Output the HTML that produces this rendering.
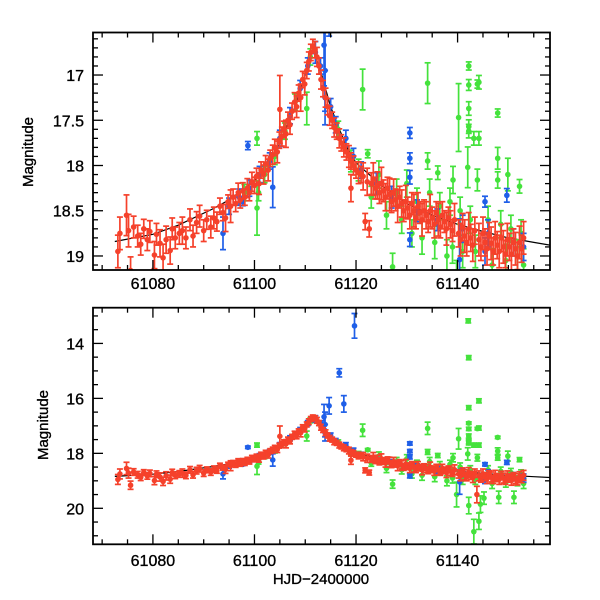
<!DOCTYPE html>
<html><head><meta charset="utf-8"><style>
html,body{margin:0;padding:0;background:#fff;}
svg{display:block;font-family:"Liberation Sans",sans-serif;}
svg text{stroke:#000;stroke-width:0.35px;}
</style></head><body>
<svg id="chart" width="600" height="600" viewBox="0 0 600 600">
<defs>
<clipPath id="clipTop"><rect x="93" y="32.5" width="457" height="237.5"/></clipPath>
<clipPath id="clipBot"><rect x="93" y="307.7" width="457" height="236.6"/></clipPath>
</defs>
<g id="top"></g>
<g id="bot"></g>
<text x="33" y="152" transform="rotate(-90 33 152)" text-anchor="middle" font-size="15">Magnitude</text>
<text x="48" y="425" transform="rotate(-90 48 425)" text-anchor="middle" font-size="15">Magnitude</text>
<text x="321" y="584" text-anchor="middle" font-size="15">HJD−2400000</text>
</svg>
<script>
// [day, mag, err]
const modelDays = [61072.5,61080,61085,61091.8,61095,61100,61103,61105,61108,61110,61111.5,61113,61115,61118,61120,61125,61130,61135,61140,61145,61150,61155,61158.2];
const modelMags = [18.84,18.76,18.66,18.48,18.38,18.17,17.95,17.75,17.35,17.0,16.72,16.95,17.35,17.78,17.97,18.22,18.42,18.55,18.65,18.73,18.8,18.85,18.88];
const redPoints = [
[61073.1,18.95,.12],[61073.5,18.75,.12],[61074.8,18.55,.15],[61075.2,18.72,.12],[61075.6,19.16,.1],[61076.2,18.68,.08],[61077,18.78,.08],[61077.6,18.87,.08],[61078.2,18.7,.07],[61078.9,18.82,.08],[61079.4,18.73,.08],[61080.3,18.99,.1],[61080.7,18.76,.08],[61081.4,18.86,.1],[61082.0,19.02,.1],[61082.6,18.82,.1],[61083.4,18.94,.1],[61083.8,18.7,.08],[61084.4,18.8,.08],[61085.2,18.75,.08],[61085.8,18.72,.1],[61086.5,18.8,.08],[61087.3,18.6,.08],[61087.9,18.78,.08],[61088.6,18.63,.08],[61089.2,18.56,.08],[61090.0,18.72,.08],[61090.6,18.6,.07],[61091.4,18.68,.08],[61092.0,18.58,.08],[61092.6,18.62,.07],[61093.2,18.45,.06],[61093.8,18.52,.06],[61094.3,18.58,.1],[61094.8,18.4,.05],[61095.3,18.45,.12],
[61095.8,18.35,.06],[61096.3,18.42,.06],[61096.8,18.3,.07],[61097.2,18.38,.06],[61097.7,18.28,.06],[61098.1,18.35,.06],[61098.6,18.25,.07],[61099.0,18.3,.06],[61099.5,18.18,.07],[61100.0,18.22,.06],[61100.4,18.12,.06],[61100.9,18.2,.08],[61101.3,18.05,.06],[61101.8,18.1,.07],[61102.2,17.98,.06],[61102.7,18.05,.08],[61103.1,17.92,.06],[61103.6,17.88,.07],[61104.0,17.8,.06],[61104.5,17.85,.08],[61104.9,17.72,.06],[61105.0,17.38,.25],[61105.4,17.68,.07],[61105.8,17.6,.06],[61106.2,17.65,.1],[61106.6,17.5,.06],[61107.0,17.55,.07],[61107.4,17.4,.06],[61107.9,17.3,.07],[61108.3,17.35,.08],[61108.7,17.2,.06],[61109.1,17.25,.1],[61109.5,17.05,.06],[61109.9,17.1,.08],[61110.3,16.95,.06],[61110.7,16.85,.07],[61111.1,16.75,.06],[61111.5,16.68,.05],[61111.9,16.72,.06],[61112.3,16.8,.07],[61112.7,16.9,.06],[61113.1,17.05,.07],[61113.5,17.15,.06],[61114.0,17.25,.07],[61114.4,17.35,.06],[61114.8,17.45,.07],[61115.3,17.5,.06],[61115.7,17.58,.07],[61116.2,17.62,.06],[61116.7,17.7,.07],[61117.1,17.75,.06],[61117.6,17.8,.07],[61118.1,17.85,.06],[61118.6,17.9,.08],[61119.0,18.25,.1],[61119.0,17.95,.06],[61119.5,18.0,.07],[61120.0,18.05,.06],[61120.5,18.08,.08],[61121.0,18.1,.06],
[61121.4,18.12,.1],[61121.8,18.62,.06],[61122.2,18.18,.1],[61122.6,18.7,.06],[61123.0,18.2,.08],[61123.4,18.15,.12],[61123.8,18.25,.08],[61124.2,18.22,.1],[61124.6,18.3,.08],[61125.0,18.2,.12],[61125.4,18.28,.08],[61125.8,18.35,.1],[61126.2,18.25,.08],[61126.6,18.32,.12],[61127.0,18.4,.08],[61127.4,18.3,.1],[61127.8,18.38,.08],[61128.2,18.45,.12],[61128.6,18.35,.08],[61129.0,18.42,.1],[61129.4,18.5,.08],[61129.8,18.4,.12],[61130.2,18.47,.08],[61130.6,18.55,.1],[61131.0,18.42,.08],[61131.4,18.5,.12],[61131.8,18.58,.08],[61132.2,18.45,.1],[61132.6,18.52,.08],[61133.0,18.6,.12],[61133.4,18.5,.08],[61133.8,18.55,.1],[61134.2,18.62,.08],[61134.6,18.5,.12],[61135.0,18.58,.08],[61135.4,18.65,.1],[61135.8,18.52,.08],[61136.2,18.6,.12],[61136.6,18.68,.08],[61137.0,18.55,.1],[61137.4,18.62,.08],[61137.8,18.7,.12],[61138.2,18.58,.08],[61138.6,18.65,.1],[61139.0,18.72,.08],[61139.4,18.6,.12],[61140.2,18.75,.1],[61140.6,18.82,.12],[61141.0,18.68,.1],[61141.4,18.78,.12],[61141.8,18.85,.1],[61142.2,18.7,.12],[61142.6,18.8,.1],[61143.0,18.88,.12],[61143.4,18.72,.1],[61143.8,19.5,.2],[61144.2,18.82,.12],[61144.6,18.9,.1],[61145.0,18.75,.12],[61145.4,18.85,.1],[61145.8,18.92,.12],[61146.2,18.78,.1],[61146.6,18.86,.12],[61147.0,18.95,.1],[61147.4,18.8,.12],[61147.8,18.88,.1],[61148.2,18.95,.12],[61148.6,18.8,.1],[61149.0,18.9,.12],[61149.4,18.98,.1],[61149.8,18.82,.12],[61150.2,18.9,.1],[61150.6,18.98,.12],[61151.0,18.85,.1],[61151.4,18.92,.12],[61151.8,19.0,.1],[61152.2,18.85,.12],[61152.6,18.92,.1],[61153.0,18.8,.12]
];
const bluePoints = [
[61093.8,18.75,.12],[61097.7,18.4,.03],[61098.7,17.78,.03],[61103.6,18.24,.15],[61113.9,16.95,.3],[61113.9,17.25,.2],[61113.7,16.67,.3],[61114.7,16.27,.2],[61117.6,16.2,.2],[61116.7,15.07,.1],[61119.7,13.36,.3],
[61130.6,17.64,.04],[61130.6,17.92,.04],[61130.6,18.13,.05],[61145.4,18.40,.04],[61149.7,18.33,.05],[61130.6,18.82,.05],[61140.4,19.04,.3],[61145.4,18.95,.1],
[61095,18.45,.06],[61097,18.35,.06],[61099,18.25,.06],[61101,18.1,.06],[61103,17.95,.06],[61105,17.7,.06],[61107,17.45,.06],[61109,17.15,.06],[61110.5,16.9,.06],[61112,16.75,.08],[61113,16.9,.06],[61115,17.35,.06],[61116,17.55,.06],[61118,17.7,.06],[61119.5,17.9,.06],[61121,18.05,.06],[61124,18.2,.08],[61127,18.35,.08],[61132,18.5,.08],[61136,18.6,.08],[61141,18.7,.1],[61146,18.75,.1],[61151,18.85,.1],[61153,18.9,.1]
];
const greenPoints = [
[61134.1,17.09,.15],[61142.2,16.9,.03],[61142.2,17.11,.04],[61143.9,17.10,.03],[61140.2,17.47,.25],[61142.2,17.37,.05],[61142.2,17.57,.05],[61142.2,17.62,.05],[61143.2,17.7,.05],[61144.2,17.7,.05],[61147.9,17.42,.03],[61134.1,17.95,.06],[61136.1,18.08,.05],[61147.9,17.92,.08],[61147.9,18.16,.06],[61149.9,18.1,.12],[61152.2,18.23,.05],[61142,18.02,.15],[61139.1,18.16,.1],[61143.9,18.16,.08],
[61121.3,17.16,.15],[61110.3,17.37,.12],[61100.5,17.7,.05],[61100.5,18.47,.2],[61122.3,17.87,.03],
[61142.1,13.18,.05],[61142.2,14.52,.05],[61144.2,16.09,.05],[61142.2,16.34,.05],[61144.2,17.08,.05],
[61098,18.3,.06],[61100.8,18.3,.06],[61102,18.1,.06],[61104,17.9,.06],[61106,17.62,.06],[61108,17.3,.06],[61111,16.8,.06],[61116.5,17.6,.06],[61119,17.95,.08],[61120.5,18.05,.08],
[61123,18.35,.08],[61124.5,18.1,.1],[61126,18.55,.1],[61127.2,19.12,.1],[61128,18.3,.1],[61129,18.6,.1],[61130,18.2,.1],[61131,18.75,.1],[61132,18.4,.1],[61133,18.8,.12],[61134.5,18.3,.1],[61135.5,18.85,.12],[61136.5,18.45,.1],[61137.9,19.0,.12],[61138.5,18.4,.1],[61139,18.9,.12],[61139.8,19.5,.3],[61140.5,18.5,.1],[61141,18.95,.12],[61142.2,19.9,.2],[61142.5,18.6,.1],[61143.2,20.85,.3],[61143.5,18.95,.12],[61144.2,20.47,.2],[61144.5,19.85,.2],[61145.2,19.63,.15],[61146,18.6,.1],[61146.8,19.1,.12],[61148.1,19.6,.15],[61148.5,18.65,.1],[61149.5,19.05,.12],[61150.5,18.7,.1],[61151.1,19.6,.15],[61151.8,19.0,.12],[61152.5,18.75,.1],[61153,19.1,.12]
];
const xTicks = [61080,61100,61120,61140];
const topYTicks = [17,17.5,18,18.5,19];
const botYTicks = [14,16,18,20];

const NS = 'http://www.w3.org/2000/svg';
const X0 = 93, X1 = 550, D0 = 61068.2, D1 = 61158.2;
const ERR_DRAW = 1.5; // visual error-bar scale (1-sigma drawn wider like reference)
function xs(d){ return X0 + (d - D0) / (D1 - D0) * (X1 - X0); }
const panels = [
  {g:'top', y0:32.5, y1:270, m0:16.53, m1:19.155, clip:'clipTop', yt:topYTicks, minor:0.1, labelY:289, name:'top'},
  {g:'bot', y0:307.7, y1:544.3, m0:12.7, m1:21.31, clip:'clipBot', yt:botYTicks, minor:0.5, labelY:566, name:'bottom'}
];
function mk(tag, attrs, parent){
  const e = document.createElementNS(NS, tag);
  for (const k in attrs) e.setAttribute(k, attrs[k]);
  parent.appendChild(e); return e;
}
panels.forEach(p => {
  const root = document.getElementById(p.g);
  const ys = m => p.y0 + (m - p.m0) / (p.m1 - p.m0) * (p.y1 - p.y0);
  const data = mk('g', {'clip-path':'url(#'+p.clip+')'}, root);
  
  
  let dstr = '';
  modelDays.forEach((d,i) => { dstr += (i?'L':'M') + xs(d).toFixed(1) + ' ' + ys(modelMags[i]).toFixed(1); });
  const ml = mk('path', {d:dstr, fill:'none', stroke:'#000', 'stroke-width':1.2}, data);
  
  
  const series = [[greenPoints,'#44e23c','green'],[bluePoints,'#1f5fe8','blue'],[redPoints,'#f5412b','red']];
  series.forEach(([pts,col,nm]) => {
    const sg = mk('g', {stroke:col, fill:col, 'stroke-width':1.7}, data);
    
    
    pts.forEach(([d,m,e]) => {
      const x = xs(d), y = ys(m), ya = ys(m - e*ERR_DRAW), yb = ys(m + e*ERR_DRAW);
      const pg = mk('g', {}, sg);
      
      
      mk('line', {x1:x, x2:x, y1:ya, y2:yb}, pg);
      mk('line', {x1:x-3, x2:x+3, y1:ya, y2:ya}, pg);
      mk('line', {x1:x-3, x2:x+3, y1:yb, y2:yb}, pg);
      mk('circle', {cx:x, cy:y, r:2.8, stroke:'none'}, pg);
    });
  });
  const fr = mk('rect', {x:X0, y:p.y0, width:X1-X0, height:p.y1-p.y0, fill:'none', stroke:'#000', 'stroke-width':1.8}, root);
  
  
  const tg = mk('g', {stroke:'#000', 'stroke-width':1.3}, root);
  
  
  for (let d = 61070; d <= 61158; d += 5) {
    const x = xs(d), L = (d % 20 === 0) ? 10 : 5;
    mk('line', {x1:x, x2:x, y1:p.y1, y2:p.y1-L}, tg);
    mk('line', {x1:x, x2:x, y1:p.y0, y2:p.y0+L}, tg);
  }
  const mstart = Math.ceil(p.m0 / p.minor) * p.minor;
  for (let m = mstart; m <= p.m1 + 1e-9; m += p.minor) {
    const mm = Math.round(m * 100) / 100;
    const y = ys(mm);
    const major = p.yt.some(t => Math.abs(t - mm) < 1e-6);
    const L = major ? 10 : 5;
    mk('line', {x1:X0, x2:X0+L, y1:y, y2:y}, tg);
    mk('line', {x1:X1, x2:X1-L, y1:y, y2:y}, tg);
  }
  xTicks.forEach(t => {
    const tx = mk('text', {x:xs(t), y:p.labelY, 'text-anchor':'middle', 'font-size':16}, root);
    tx.textContent = t;
    
    
  });
  p.yt.forEach(t => {
    const tx = mk('text', {x:84, y:ys(t)+6, 'text-anchor':'end', 'font-size':16}, root);
    tx.textContent = t;
    
    
  });
});
</script>
</body></html>
